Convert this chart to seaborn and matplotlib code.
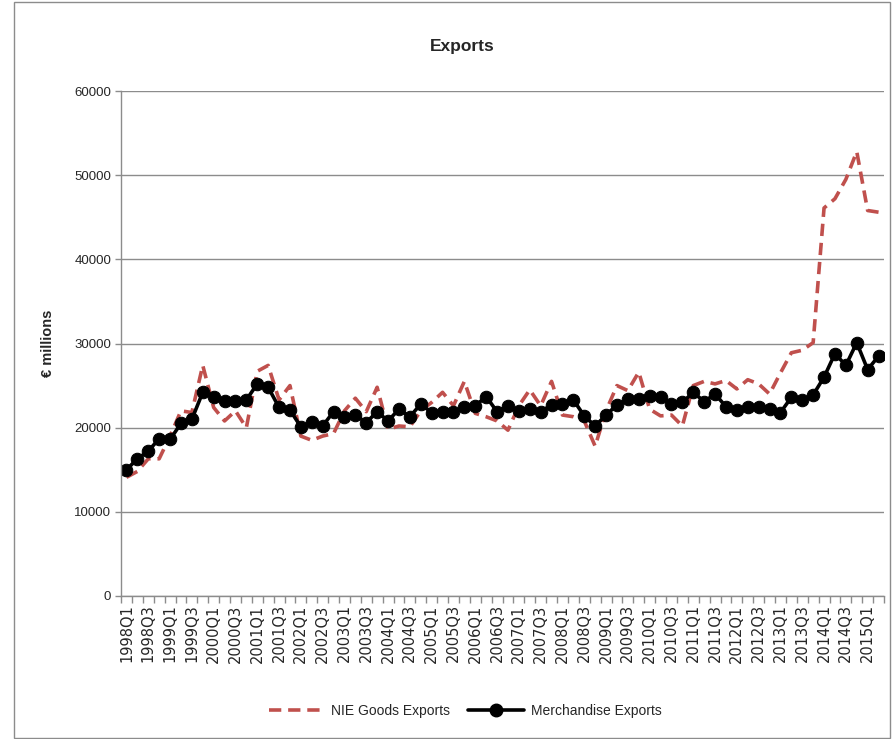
import numpy as np
import pandas as pd
import matplotlib
matplotlib.use("Agg")
import matplotlib.pyplot as plt
import seaborn as sns
from matplotlib.lines import Line2D
from matplotlib.patches import Rectangle

quarters = [f"{y}Q{q}" for y in range(1998, 2016) for q in range(1, 5)][:70]

nie_goods = [14100, 14800, 16300, 16300, 19000, 22000, 21800, 27400, 22400, 20800,
             22000, 20000, 26700, 27400, 23300, 25000, 19000, 18500, 19000, 19300,
             22000, 23500, 21900, 24800, 19800, 20200, 20100, 22000, 23000, 24200,
             22600, 25500, 21700, 21300, 20800, 19700, 22600, 24500, 22600, 25500,
             21500, 21300, 20800, 17800, 22000, 25000, 24400, 26600, 22200, 21400,
             21500, 20200, 25000, 25500, 25200, 25600, 24600, 25700, 25200, 24000,
             26500, 28900, 29200, 30100, 46100, 47200, 49500, 52800, 45800, 45600]

merchandise = [15000, 16300, 17200, 18700, 18600, 20500, 21000, 24200, 23600, 23200,
               23200, 23300, 25200, 24800, 22400, 22100, 20100, 20700, 20200, 21900,
               21300, 21500, 20600, 21900, 20800, 22200, 21300, 22800, 21800, 21900,
               21900, 22400, 22600, 23700, 21900, 22600, 22000, 22200, 21900, 22700,
               22800, 23300, 21400, 20200, 21500, 22700, 23400, 23400, 23800, 23700,
               22800, 23000, 24200, 23100, 24000, 22500, 22100, 22500, 22500, 22200,
               21800, 23600, 23300, 23900, 26000, 28800, 27400, 30100, 26900, 28500]

yticks = [0, 10000, 20000, 30000, 40000, 50000, 60000]

sns.set_theme(style="white")
plt.rcParams['font.family'] = ['DejaVu Sans']

fig = plt.figure(figsize=(8.93, 7.39), dpi=100)
ax = fig.add_axes([121/893, 1 - 596/739, (884-121)/893, (596-91)/739])

x = np.arange(len(quarters))
red = "#C0504D"
dash = (0, (3.4, 1.9))
sns.lineplot(x=x, y=nie_goods, ax=ax, color=red, linewidth=2.6, linestyle=dash,
             label="NIE Goods Exports")
sns.lineplot(x=x, y=merchandise, ax=ax, color="black", linewidth=2.6, marker="o",
             markersize=9, markeredgecolor="black", label="Merchandise Exports")

ax.set_xlim(-0.5, len(quarters) - 0.5)
ax.set_ylim(0, 60000)
ax.set_yticks(yticks)
ax.set_yticklabels([str(v) for v in yticks], fontsize=9.5, family="Liberation Sans")
ax.yaxis.grid(True, color="#8c8c8c", linewidth=1)
ax.set_axisbelow(True)

ax.set_xticks(x[::2])
ax.set_xticklabels(quarters[::2], rotation=90, fontsize=10.5)
ax.set_xticks(np.arange(-0.5, len(quarters), 1), minor=True)
ax.tick_params(axis="x", which="major", length=0, pad=6)
ax.tick_params(axis="x", which="minor", length=5, color="#8c8c8c", width=1, direction="out", bottom=True)
ax.tick_params(axis="y", length=4, color="#8c8c8c", width=1, direction="out", left=True, pad=3)

for s in ["top", "right"]:
    ax.spines[s].set_visible(False)
for s in ["left", "bottom"]:
    ax.spines[s].set_color("#8c8c8c")
    ax.spines[s].set_linewidth(1)

ax.set_xlabel("")
ax.set_ylabel("€ millions", fontsize=10.5, fontweight="bold", family="Liberation Sans", labelpad=14)
fig.text(462/893, 1 - 47/739, "Exports", ha="center", va="center", fontsize=12.5,
         fontweight="bold", family="Liberation Sans")

ax.get_legend().remove()
handles = [Line2D([], [], color=red, linewidth=2.6, linestyle=dash),
           Line2D([], [], color="black", linewidth=2.6, marker="o", markersize=9)]
fig.legend(handles, ["NIE Goods Exports", "Merchandise Exports"], loc="center",
           bbox_to_anchor=(465/893, 1 - 711/739), ncol=2, frameon=False,
           prop={"family": "Liberation Sans", "size": 10}, handlelength=4.0,
           columnspacing=1.3, handletextpad=0.5)

fig.patches.append(Rectangle((14/893, 0.002), (890-14)/893, 0.995, transform=fig.transFigure,
                             fill=False, edgecolor="#8c8c8c", linewidth=1))

fig.savefig("out.png", dpi=100)
